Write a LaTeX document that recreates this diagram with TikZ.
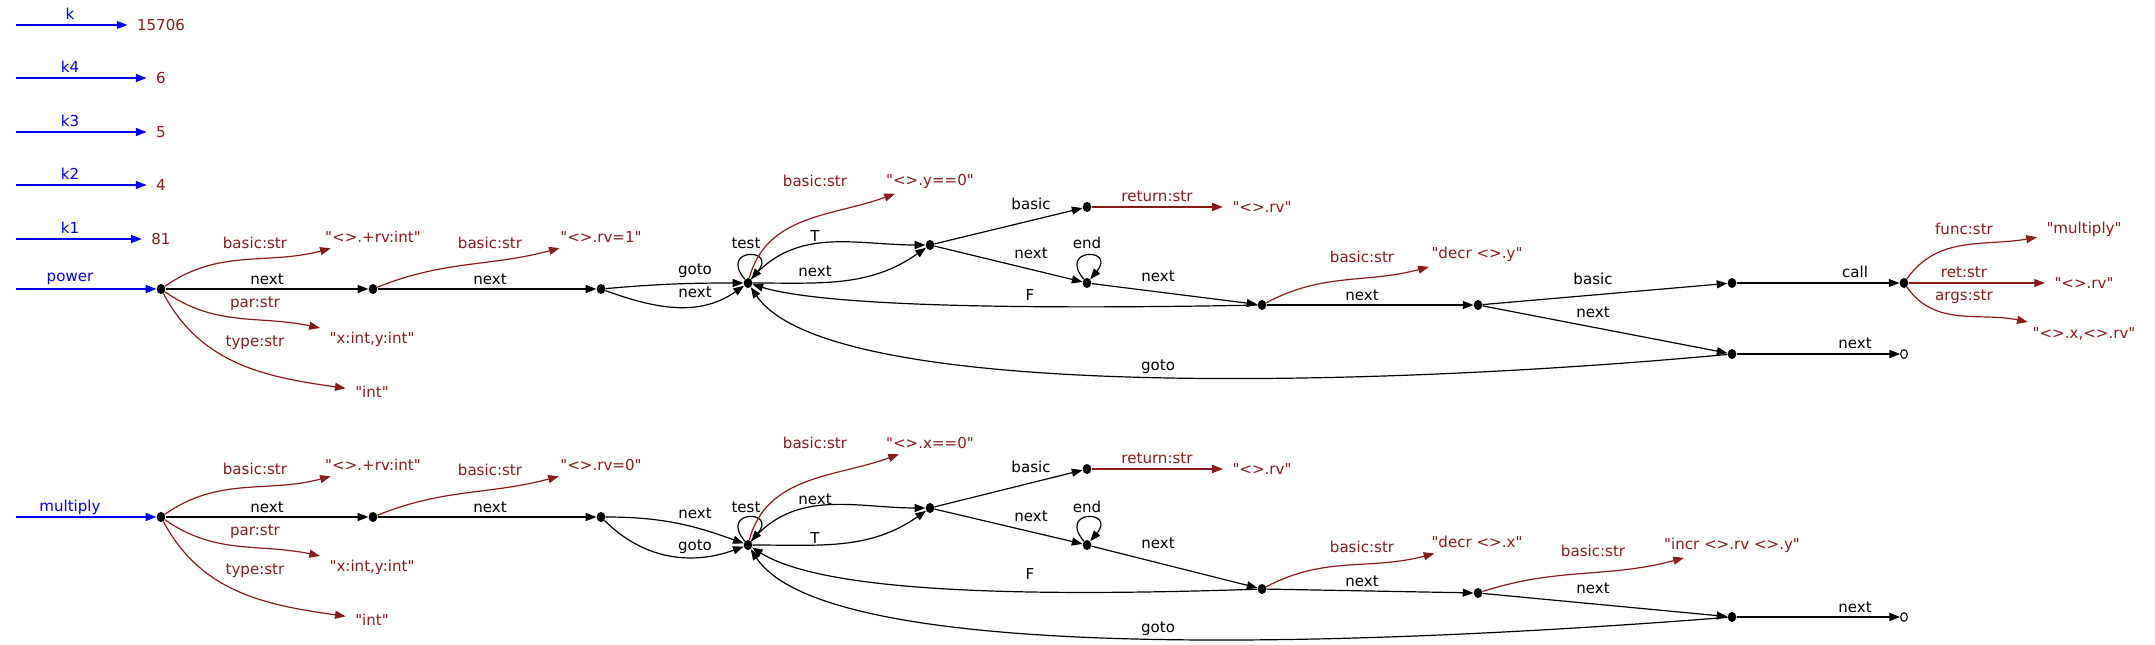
\documentclass[tikz,border=0pt]{standalone}
\usepackage{fontspec}
\newfontfamily\graphfont{DejaVu Sans}
\usetikzlibrary{arrows.meta,shapes.geometric}
\definecolor{strred}{RGB}{139,26,26}
\begin{document}
\begin{tikzpicture}[x=0.75pt,y=-0.75pt,
  font=\graphfont\fontsize{11.3}{13}\selectfont,
  dot/.style={ellipse, fill, inner sep=0pt, minimum width=6.5pt, minimum height=7.5pt},
  fin/.style={ellipse, draw, line width=0.8pt, inner sep=0pt, minimum width=5pt, minimum height=6.5pt},
  lit/.style={text=strred, inner xsep=7pt, inner ysep=4pt},
  lbl/.style={text=black, inner sep=0pt},
  rlbl/.style={text=strred, inner sep=0pt},
  blbl/.style={text=blue, inner sep=0pt},
  flow/.style={-{Triangle[length=8pt,width=6pt]}, line width=0.9pt},
  strflow/.style={flow, draw=strred},
  rootflow/.style={flow, draw=blue}]
\useasboundingbox (0,0) rectangle (2155,645);
% constants
\node[lit] (kv) at (161,25) {15706};
\node[lit] (k4v) at (161,78) {6};
\node[lit] (k3v) at (161,132) {5};
\node[lit] (k2v) at (161,185) {4};
\node[lit] (k1v) at (161,239) {81};
\coordinate (kin) at (16,25);
\coordinate (k4in) at (16,78);
\coordinate (k3in) at (16,132);
\coordinate (k2in) at (16,185);
\coordinate (k1in) at (16,239);
\draw[rootflow] (kin) -- (kv) node[blbl] at (70,14) {k};
\draw[rootflow] (k4in) -- (k4v) node[blbl] at (70,67) {k4};
\draw[rootflow] (k3in) -- (k3v) node[blbl] at (70,121) {k3};
\draw[rootflow] (k2in) -- (k2v) node[blbl] at (70,174) {k2};
\draw[rootflow] (k1in) -- (k1v) node[blbl] at (70,228) {k1};
% power
\coordinate (pin) at (16,289);
\node[dot] (p0) at (161,289){};
\node[dot] (p1) at (373,289){};
\node[dot] (p2) at (601,289){};
\node[dot] (t) at (748,283){};
\node[dot] (a) at (930,245){};
\node[dot] (b) at (1087,207){};
\node[dot] (c) at (1087,283){};
\node[dot] (d) at (1262,305){};
\node[dot] (e) at (1478,305){};
\node[dot] (f) at (1732,283){};
\node[dot] (g) at (1904,283){};
\node[dot] (h) at (1732,354){};
\node[fin] (o) at (1904,354){};
\node[lit] (s1) at (373,237) {"<>.+rv:int"};
\node[lit] (s2) at (372,339) {"x:int,y:int"};
\node[lit] (s3) at (372,392) {"int"};
\node[lit] (s4) at (601,237) {"<>.rv=1"};
\node[lit] (s5) at (930,181) {"<>.y==0"};
\node[lit] (s6) at (1262,207) {"<>.rv"};
\node[lit] (s7) at (1477,254) {"decr <>.y"};
\node[lit] (s8) at (2084,229) {"multiply"};
\node[lit] (s9) at (2084,283) {"<>.rv"};
\node[lit] (s10) at (2084,334) {"<>.x,<>.rv"};
\draw[rootflow] (pin) -- (p0) node[blbl] at (70,279) {power};
\draw[flow] (p0) -- (p1) node[lbl] at (267,279) {next};
\draw[flow] (p1) -- (p2) node[lbl] at (490,279) {next};
\draw[strflow] (p0) to[out=35,in=195] (s1) node[rlbl] at (255,243) {basic:str};
\draw[strflow] (p0) to[out=-35,in=168] (s2) node[rlbl] at (255,304) {par:str};
\draw[strflow] (p0) to[out=-62,in=172] (s3) node[rlbl] at (255,343) {type:str};
\draw[strflow] (p1) to[out=22,in=195] (s4) node[rlbl] at (490,243) {basic:str};
\draw[flow] (p2) to[out=5,in=180] (t) node[lbl] at (695,271) {goto};
\draw[flow] (p2) to[out=-20,in=215] (t) node[lbl] at (695,292) {next};
\draw[flow] (t) to[out=130,in=50,min distance=31pt] (t) node[lbl] at (746,243) {test};
\draw[strflow] (t) to[out=75,in=200] (s5) node[rlbl] at (815,181) {basic:str};
\draw[flow] (t) to[out=50,in=180] (a) node[lbl] at (815,236) {T};
\draw[flow] (t) to[out=0,in=215] (a) node[lbl] at (815,271) {next};
\draw[flow] (a) -- (b) node[lbl] at (1031,204) {basic};
\draw[flow] (a) -- (c) node[lbl] at (1031,253) {next};
\draw[strflow] (b) -- (s6) node[rlbl] at (1157,196) {return:str};
\draw[flow] (c) to[out=130,in=50,min distance=31pt] (c) node[lbl] at (1087,243) {end};
\draw[flow] (c) -- (d) node[lbl] at (1158,276) {next};
\draw[flow] (d) .. controls (1000,310) and (820,305) .. (t) node[lbl] at (1030,295) {F};
\draw[strflow] (d) to[out=28,in=195] (s7) node[rlbl] at (1362,257) {basic:str};
\draw[flow] (d) -- (e) node[lbl] at (1362,295) {next};
\draw[flow] (e) -- (f) node[lbl] at (1593,279) {basic};
\draw[flow] (e) -- (h) node[lbl] at (1593,312) {next};
\draw[flow] (f) -- (g) node[lbl] at (1855,272) {call};
\draw[strflow] (g) to[out=55,in=190] (s8) node[rlbl] at (1964,229) {func:str};
\draw[strflow] (g) -- (s9) node[rlbl] at (1964,272) {ret:str};
\draw[strflow] (g) to[out=-55,in=168] (s10) node[rlbl] at (1964,297) {args:str};
\draw[flow] (h) -- (o) node[lbl] at (1855,343) {next};
\draw[flow] (h) .. controls (1400,385) and (830,405) .. (t) node[lbl] at (1158,367) {goto};
% multiply
\coordinate (qin) at (16,517);
\node[dot] (q0) at (161,517){};
\node[dot] (q1) at (373,517){};
\node[dot] (q2) at (601,517){};
\node[dot] (u) at (748,545){};
\node[dot] (ua) at (930,508){};
\node[dot] (ub) at (1087,469){};
\node[dot] (uc) at (1087,545){};
\node[dot] (ud) at (1262,589){};
\node[dot] (ue) at (1478,593){};
\node[dot] (uh) at (1732,617){};
\node[fin] (uo) at (1904,617){};
\node[lit] (r1) at (373,465) {"<>.+rv:int"};
\node[lit] (r2) at (372,567) {"x:int,y:int"};
\node[lit] (r3) at (372,620) {"int"};
\node[lit] (r4) at (601,465) {"<>.rv=0"};
\node[lit] (r5) at (930,443) {"<>.x==0"};
\node[lit] (r6) at (1262,469) {"<>.rv"};
\node[lit] (r7) at (1477,542) {"decr <>.x"};
\node[lit] (r8) at (1732,545) {"incr <>.rv <>.y"};
\draw[rootflow] (qin) -- (q0) node[blbl] at (70,507) {multiply};
\draw[flow] (q0) -- (q1) node[lbl] at (267,507) {next};
\draw[flow] (q1) -- (q2) node[lbl] at (490,507) {next};
\draw[strflow] (q0) to[out=35,in=195] (r1) node[rlbl] at (255,469) {basic:str};
\draw[strflow] (q0) to[out=-35,in=168] (r2) node[rlbl] at (255,532) {par:str};
\draw[strflow] (q0) to[out=-62,in=172] (r3) node[rlbl] at (255,571) {type:str};
\draw[strflow] (q1) to[out=22,in=195] (r4) node[rlbl] at (490,470) {basic:str};
\draw[flow] (q2) to[out=0,in=160] (u) node[lbl] at (695,513) {next};
\draw[flow] (q2) to[out=-45,in=200] (u) node[lbl] at (695,547) {goto};
\draw[flow] (u) to[out=130,in=50,min distance=31pt] (u) node[lbl] at (746,507) {test};
\draw[strflow] (u) to[out=75,in=200] (r5) node[rlbl] at (815,443) {basic:str};
\draw[flow] (u) to[out=50,in=180] (ua) node[lbl] at (815,499) {next};
\draw[flow] (u) to[out=0,in=215] (ua) node[lbl] at (815,538) {T};
\draw[flow] (ua) -- (ub) node[lbl] at (1031,467) {basic};
\draw[flow] (ua) -- (uc) node[lbl] at (1031,516) {next};
\draw[strflow] (ub) -- (r6) node[rlbl] at (1157,458) {return:str};
\draw[flow] (uc) to[out=130,in=50,min distance=31pt] (uc) node[lbl] at (1087,507) {end};
\draw[flow] (uc) -- (ud) node[lbl] at (1158,543) {next};
\draw[flow] (ud) .. controls (1000,598) and (820,590) .. (u) node[lbl] at (1030,574) {F};
\draw[strflow] (ud) to[out=28,in=195] (r7) node[rlbl] at (1362,547) {basic:str};
\draw[flow] (ud) -- (ue) node[lbl] at (1362,581) {next};
\draw[strflow] (ue) to[out=18,in=195] (r8) node[rlbl] at (1593,551) {basic:str};
\draw[flow] (ue) -- (uh) node[lbl] at (1593,588) {next};
\draw[flow] (uh) -- (uo) node[lbl] at (1855,607) {next};
\draw[flow] (uh) .. controls (1400,643) and (830,670) .. (u) node[lbl] at (1158,629) {goto};
\end{tikzpicture}
\end{document}
